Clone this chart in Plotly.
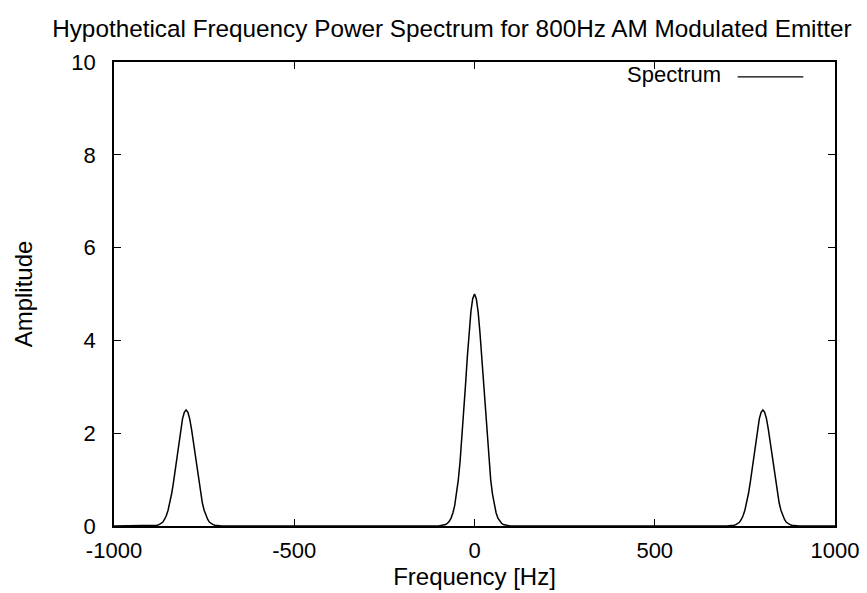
import plotly.graph_objects as go

# Values
left_peak_freq = [-900, -890, -880, -875, -870, -865, -860, -855, -850, -845, -840, -835,
                  -830, -825, -820, -815, -810, -805, -800, -795, -790, -785, -780, -775,
                  -770, -765, -760, -755, -750, -745, -740, -735, -730, -725, -720, -710, -700]
left_peak_amp = [0, 0.005, 0.015, 0.03, 0.05, 0.08, 0.14, 0.22, 0.34, 0.50, 0.70, 0.94,
                 1.22, 1.52, 1.82, 2.09, 2.31, 2.45, 2.50, 2.45, 2.31, 2.09, 1.82, 1.52,
                 1.22, 0.94, 0.70, 0.50, 0.34, 0.22, 0.14, 0.08, 0.05, 0.03, 0.015, 0.005, 0]

center_peak_freq = [-100, -90, -80, -75, -70, -65, -60, -55, -50, -45, -40, -35,
                    -30, -25, -20, -15, -10, -5, 0, 5, 10, 15, 20, 25,
                    30, 35, 40, 45, 50, 55, 60, 65, 70, 75, 80, 90, 100]
center_peak_amp = [0, 0.01, 0.03, 0.06, 0.10, 0.17, 0.28, 0.44, 0.68, 0.99, 1.39, 1.88,
                   2.43, 3.03, 3.63, 4.18, 4.62, 4.90, 5.00, 4.90, 4.62, 4.18, 3.63, 3.03,
                   2.43, 1.88, 1.39, 0.99, 0.68, 0.44, 0.28, 0.17, 0.10, 0.06, 0.03, 0.01, 0]

right_peak_freq = [700, 710, 720, 725, 730, 735, 740, 745, 750, 755, 760, 765,
                   770, 775, 780, 785, 790, 795, 800, 805, 810, 815, 820, 825,
                   830, 835, 840, 845, 850, 855, 860, 865, 870, 875, 880, 890, 900]
right_peak_amp = [0, 0.005, 0.015, 0.03, 0.05, 0.08, 0.14, 0.22, 0.34, 0.50, 0.70, 0.94,
                  1.22, 1.52, 1.82, 2.09, 2.31, 2.45, 2.50, 2.45, 2.31, 2.09, 1.82, 1.52,
                  1.22, 0.94, 0.70, 0.50, 0.34, 0.22, 0.14, 0.08, 0.05, 0.03, 0.015, 0.005, 0]

edge_freq = [-1000, 1000]
edge_amp = [0, 0]

x_ticks = [-1000, -500, 0, 500, 1000]
x_tick_labels = ["-1000", "-500", "0", "500", "1000"]
y_ticks = [0, 2, 4, 6, 8, 10]
y_tick_labels = ["0", "2", "4", "6", "8", "10"]

freq = [edge_freq[0]] + left_peak_freq + center_peak_freq + right_peak_freq + [edge_freq[1]]
amp = [edge_amp[0]] + left_peak_amp + center_peak_amp + right_peak_amp + [edge_amp[1]]

FONT = "Liberation Sans, Arial, sans-serif"

fig = go.Figure()
fig.add_trace(go.Scatter(x=freq, y=amp, mode="lines", name="Spectrum",
                         line=dict(color="black", width=1.5), showlegend=False))

fig.update_layout(
    width=867, height=593,
    margin=dict(l=106, r=40, t=54, b=75),
    paper_bgcolor="white", plot_bgcolor="white",
    font=dict(family=FONT, size=20, color="black"),
    title=dict(text="Hypothetical Frequency Power Spectrum for 800Hz AM Modulated Emitter",
               x=0.512, xanchor="center", y=0.966, yanchor="middle",
               font=dict(family=FONT, size=24.3, color="black")),
    xaxis=dict(range=[-1000, 1000], tickvals=x_ticks, ticktext=x_tick_labels,
               ticks="inside", ticklen=7, tickwidth=1, tickcolor="black",
               showline=True, linecolor="black", linewidth=1.5, mirror="ticks",
               showgrid=False, zeroline=False, ticklabelstandoff=4,
               title=dict(text="Frequency [Hz]", standoff=6, font=dict(size=24)),
               tickfont=dict(size=22)),
    yaxis=dict(range=[0, 10], tickvals=y_ticks, ticktext=y_tick_labels,
               ticks="inside", ticklen=7, tickwidth=1, tickcolor="black",
               showline=True, linecolor="black", linewidth=1.5, mirror="ticks",
               showgrid=False, zeroline=False, ticklabelstandoff=12,
               title=dict(text="Amplitude", standoff=32, font=dict(size=24)),
               tickfont=dict(size=22)),
)

# legend sample in gnuplot style: text on the left, line sample on the right
fig.add_annotation(x=0.845, y=0.972, xref="paper", yref="paper",
                   text="Spectrum", showarrow=False, xanchor="right", yanchor="middle",
                   font=dict(family=FONT, size=22, color="black"))
fig.add_shape(type="line", xref="paper", yref="paper",
              x0=0.865, x1=0.956, y0=0.968, y1=0.968,
              line=dict(color="black", width=1.2))

fig.write_html("out.html")
